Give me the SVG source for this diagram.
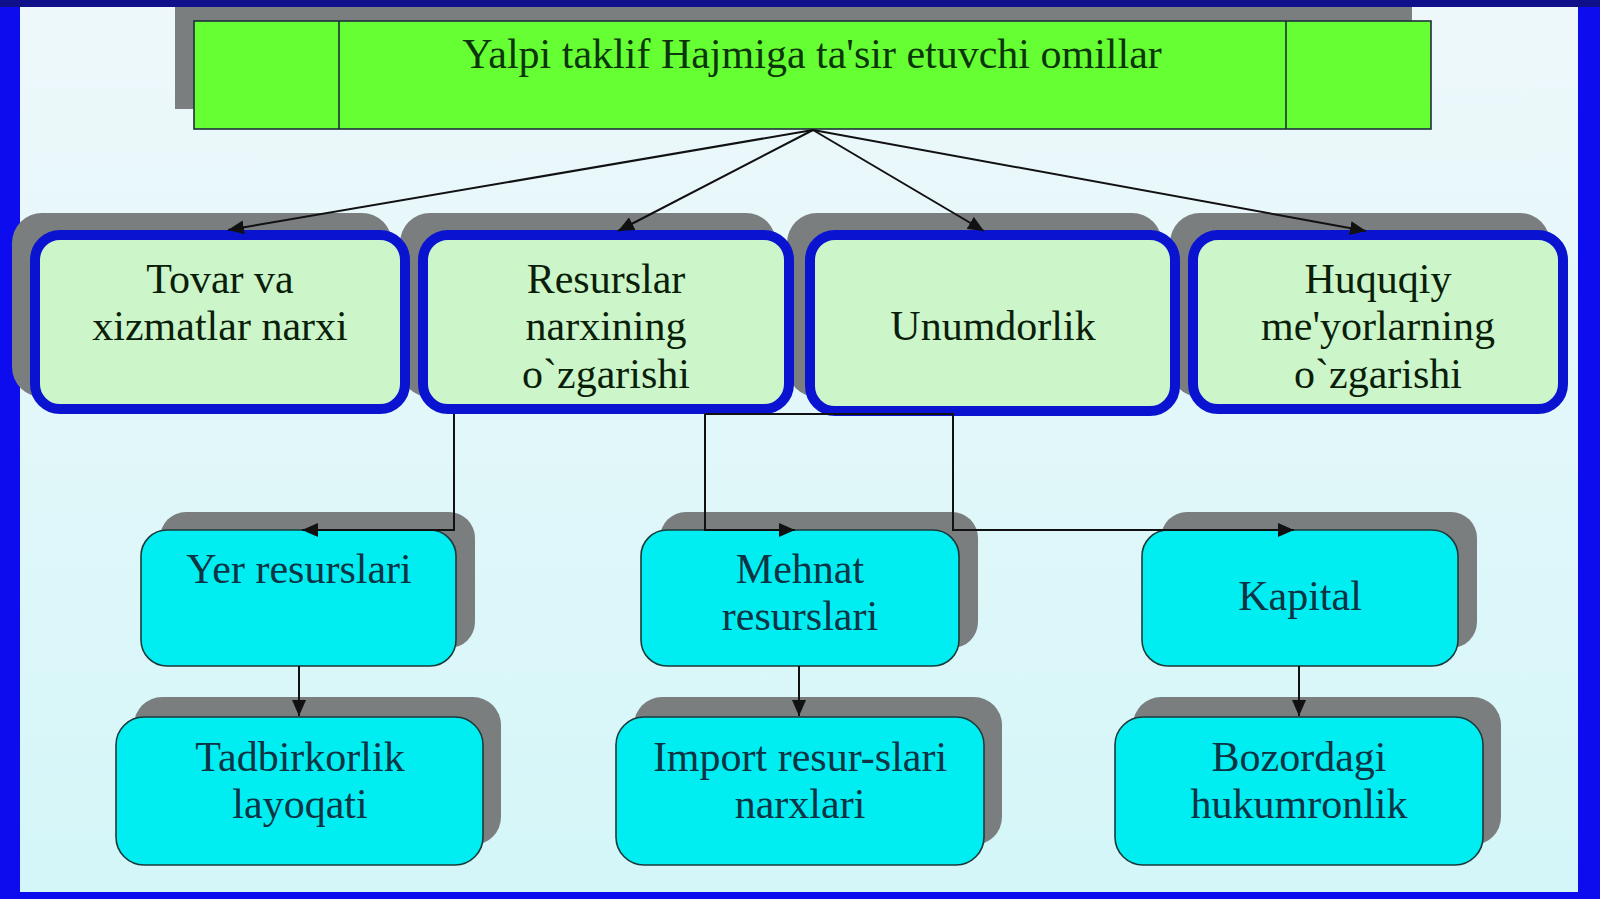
<svg xmlns="http://www.w3.org/2000/svg" width="1600" height="899" viewBox="0 0 1600 899">
<defs>
<linearGradient id="bg" x1="0" y1="0" x2="0" y2="1">
<stop offset="0" stop-color="#EEF8FB"/>
<stop offset="1" stop-color="#D4F6F8"/>
</linearGradient>
<marker id="arr" markerUnits="userSpaceOnUse" markerWidth="16" markerHeight="14" refX="16" refY="7" orient="auto">
<path d="M0,0 L16,7 L0,14 Z" fill="#111"/>
</marker>
<style>
.sh{fill:#7A7E7E}
.top{fill:#CCF6C9;stroke:#0A14D0;stroke-width:10}
.cy{fill:#00EEF2;stroke:#1A3A3A;stroke-width:1.6}
.t1{font-family:"Liberation Serif","Times New Roman",serif;font-size:42px;fill:#0A1E0A;text-anchor:middle}
.t2{font-family:"Liberation Serif","Times New Roman",serif;font-size:42px;fill:#0C3444;text-anchor:middle}
.ln{fill:none;stroke:#111;stroke-width:2}
</style>
</defs>
<rect x="0" y="0" width="1600" height="899" fill="#0C0CEE"/>
<rect x="20" y="7" width="1558" height="885" fill="url(#bg)"/>
<rect x="0" y="0" width="1600" height="7" fill="#10108A"/>

<g id="title">
<rect x="175" y="7" width="1237" height="102" class="sh"/>
<rect x="194" y="21" width="1237" height="108" fill="#66FF33" stroke="#1E2E3E" stroke-width="1.6"/>
<line x1="339" y1="21" x2="339" y2="129" stroke="#1E2E3E" stroke-width="1.6"/>
<line x1="1286" y1="21" x2="1286" y2="129" stroke="#1E2E3E" stroke-width="1.6"/>
<text x="812" y="68" class="t1" fill="#0B360B" style="fill:#0B360B">Yalpi taklif Hajmiga ta'sir etuvchi omillar</text>
</g>

<g id="shadows-row2">
<rect x="12" y="213" width="380" height="184" rx="30" class="sh"/>
<rect x="400" y="213" width="376" height="184" rx="30" class="sh"/>
<rect x="787" y="213" width="375" height="184" rx="30" class="sh"/>
<rect x="1170" y="213" width="380" height="184" rx="30" class="sh"/>
</g>

<g id="n1">
<rect x="35" y="235" width="370" height="174" rx="25" class="top"/>
<text class="t1"><tspan x="220" y="293">Tovar va</tspan><tspan x="220" y="340">xizmatlar narxi</tspan></text>
</g>
<g id="n2">
<rect x="423" y="235" width="366" height="174" rx="25" class="top"/>
<text class="t1"><tspan x="606" y="293">Resurslar</tspan><tspan x="606" y="340">narxining</tspan><tspan x="606" y="388">o`zgarishi</tspan></text>
</g>
<g id="n3">
<rect x="810" y="235" width="365" height="176" rx="25" class="top"/>
<text class="t1"><tspan x="993" y="340">Unumdorlik</tspan></text>
</g>
<g id="n4">
<rect x="1193" y="235" width="370" height="174" rx="25" class="top"/>
<text class="t1"><tspan x="1378" y="293">Huquqiy</tspan><tspan x="1378" y="340">me'yorlarning</tspan><tspan x="1378" y="388">o`zgarishi</tspan></text>
</g>

<g id="n5">
<rect x="160" y="512" width="315" height="136" rx="26" class="sh"/>
<rect x="141" y="530" width="315" height="136" rx="26" class="cy"/>
<text class="t2"><tspan x="299" y="583">Yer resurslari</tspan></text>
</g>
<g id="n6">
<rect x="660" y="512" width="318" height="136" rx="26" class="sh"/>
<rect x="641" y="530" width="318" height="136" rx="26" class="cy"/>
<text class="t2"><tspan x="800" y="583">Mehnat</tspan><tspan x="800" y="630">resurslari</tspan></text>
</g>
<g id="n7">
<rect x="1161" y="512" width="316" height="136" rx="26" class="sh"/>
<rect x="1142" y="530" width="316" height="136" rx="26" class="cy"/>
<text class="t2"><tspan x="1300" y="610">Kapital</tspan></text>
</g>
<g id="n8">
<rect x="134" y="697" width="367" height="148" rx="28" class="sh"/>
<rect x="116" y="717" width="367" height="148" rx="28" class="cy"/>
<text class="t2"><tspan x="300" y="771">Tadbirkorlik</tspan><tspan x="300" y="818">layoqati</tspan></text>
</g>
<g id="n9">
<rect x="634" y="697" width="368" height="148" rx="28" class="sh"/>
<rect x="616" y="717" width="368" height="148" rx="28" class="cy"/>
<text class="t2"><tspan x="800" y="771">Import resur-slari</tspan><tspan x="800" y="818">narxlari</tspan></text>
</g>
<g id="n10">
<rect x="1133" y="697" width="368" height="148" rx="28" class="sh"/>
<rect x="1115" y="717" width="368" height="148" rx="28" class="cy"/>
<text class="t2"><tspan x="1299" y="771">Bozordagi</tspan><tspan x="1299" y="818">hukumronlik</tspan></text>
</g>

<g id="connectors">
<line x1="813" y1="130" x2="228" y2="230" class="ln" marker-end="url(#arr)"/>
<line x1="813" y1="130" x2="618" y2="231" class="ln" marker-end="url(#arr)"/>
<line x1="813" y1="130" x2="984" y2="231" class="ln" marker-end="url(#arr)"/>
<line x1="813" y1="130" x2="1366" y2="231" class="ln" marker-end="url(#arr)"/>
<path d="M454,414 V530 H302" class="ln" marker-end="url(#arr)"/>
<path d="M705,414 V530 H795" class="ln" marker-end="url(#arr)"/>
<path d="M705,414 H953 V530 H1294" class="ln" marker-end="url(#arr)"/>
<line x1="299" y1="666" x2="299" y2="716" class="ln" marker-end="url(#arr)"/>
<line x1="799" y1="666" x2="799" y2="716" class="ln" marker-end="url(#arr)"/>
<line x1="1299" y1="666" x2="1299" y2="716" class="ln" marker-end="url(#arr)"/>
</g>
</svg>
